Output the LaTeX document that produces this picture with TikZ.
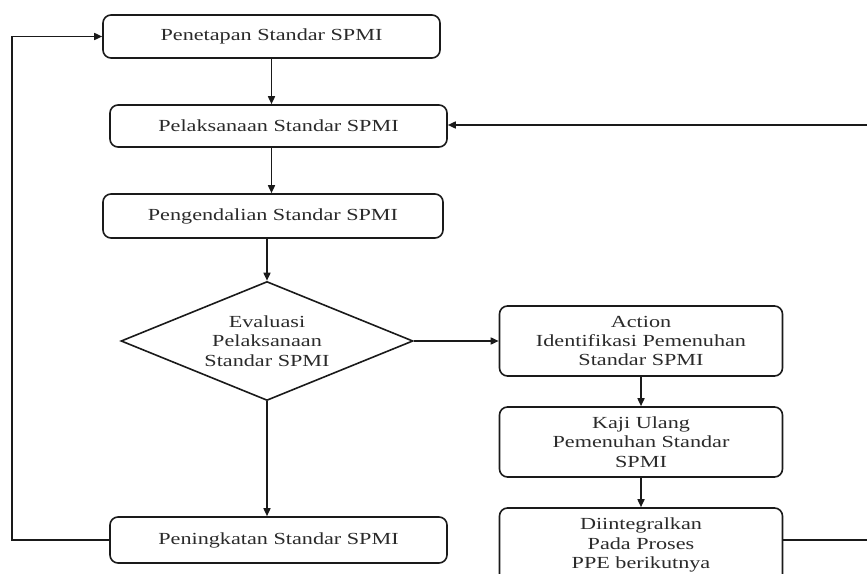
\documentclass[tikz,border=0pt]{standalone}
\usepackage{fontspec}
\setmainfont{Liberation Serif}[FakeStretch=1.31]
\usetikzlibrary{shapes.geometric,arrows.meta}
\definecolor{ink}{HTML}{1a1a1a}
\definecolor{txt}{HTML}{2a2a2a}
\begin{document}
\begin{tikzpicture}[x=1bp,y=-1bp,
  box/.style={draw=ink,line width=1.6bp,rounded corners=8bp,inner sep=0pt,align=center,text=txt,
    font=\fontsize{17}{19.5}\selectfont},
  dia/.style={draw=ink,line width=1.6bp,shape=diamond,aspect=2.45,inner sep=0pt,align=center,text=txt,
    font=\fontsize{17}{19.5}\selectfont,minimum width=292bp,minimum height=119bp},
  conn/.style={draw=ink,line width=1.6bp,-{Triangle[length=8bp,width=7bp]}},
  line/.style={draw=ink,line width=1.6bp}]
\useasboundingbox (0,0) rectangle (867,574);
\clip (0,0) rectangle (867,574);
\node[box,minimum width=337bp,minimum height=43bp] (pen) at (271.5,36.5) {Penetapan Standar SPMI};
\node[box,minimum width=337bp,minimum height=42bp] (pel) at (278.5,126) {Pelaksanaan Standar SPMI};
\node[box,minimum width=340bp,minimum height=44bp] (pgd) at (273,216) {Pengendalian Standar SPMI};
\node[dia] (eva) at (267,341) {Evaluasi\\Pelaksanaan\\Standar SPMI};
\node[box,minimum width=337bp,minimum height=46bp] (pnk) at (278.5,540) {Peningkatan Standar SPMI};
\node[box,minimum width=283bp,minimum height=70bp] (act) at (641,341) {Action\\Identifikasi Pemenuhan\\Standar SPMI};
\node[box,minimum width=283bp,minimum height=70bp] (kaj) at (641,442) {Kaji Ulang\\Pemenuhan Standar\\SPMI};
\node[box,minimum width=283bp,minimum height=74bp] (din) at (641,545) {Diintegralkan\\ Pada Proses\\PPE berikutnya};
\coordinate (l1) at (12,540);
\coordinate (l2) at (12,36.5);
\coordinate (r1) at (880,540);
\coordinate (r2) at (880,125);
\draw[conn] (pen.south) -- (pen.south |- pel.north);
\draw[conn] (pen.south |- pel.south) -- (pen.south |- pgd.north);
\draw[conn] (eva.north |- pgd.south) -- (eva.north);
\draw[conn] (eva.south) -- (eva.south |- pnk.north);
\draw[conn] (eva.east) -- (act.west);
\draw[conn] (act.south) -- (kaj.north);
\draw[conn] (kaj.south) -- (din.north);
\draw[conn] (pnk.west) -- (l1) -- (l2) -- (pen.west);
\draw[conn] (din.east |- r1) -- (r1) -- (r2) -- (pel.east |- r2);
\end{tikzpicture}
\end{document}
